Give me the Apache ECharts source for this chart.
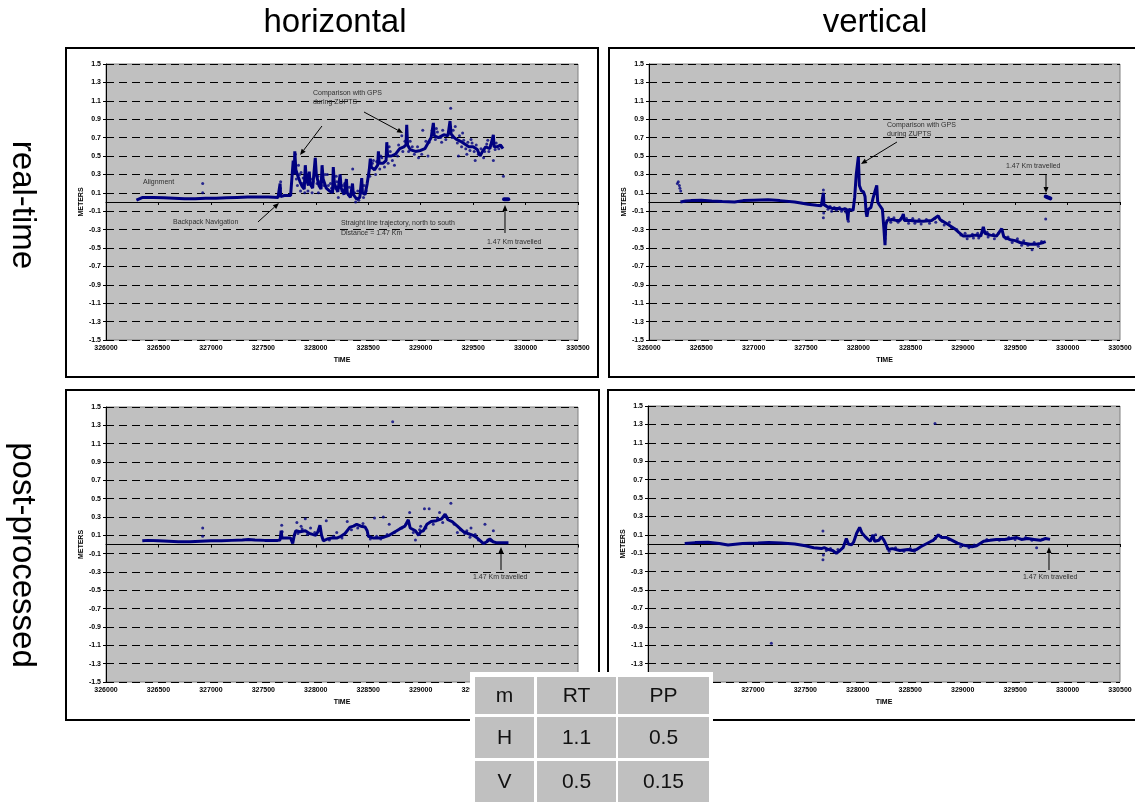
<!DOCTYPE html>
<html><head><meta charset="utf-8">
<script src="https://cdn.jsdelivr.net/npm/echarts@6/dist/echarts.min.js"></script>
<style>html,body{margin:0;padding:0;background:#fff;}#c{width:1135px;height:803px;}</style>
</head><body><div id="c"></div>
<script>
// ---------- axis definitions ----------
const timeMin = 326000, timeMax = 330500, timeStep = 500;
const meterMin = -1.5, meterMax = 1.5, meterStep = 0.2;
const colTitles = ['horizontal', 'vertical'];
const rowTitles = ['real-time', 'post-processed'];
const xAxisName = 'TIME';
const yAxisName = 'METERS';

// ---------- data: real-time horizontal ----------
const rtH_trace = [
[326290,0.02],[326300,0.04],[326350,0.05],[326450,0.05],[326550,0.045],[326650,0.04],[326750,0.035],[326850,0.035],[326950,0.04],[327050,0.04],[327150,0.045],[327250,0.05],[327350,0.055],[327450,0.055],[327550,0.055],[327640,0.05],
[327655,0.05],[327660,0.2],[327665,0.06],[327700,0.07],[327760,0.07],[327770,0.08],
[327785,0.45],[327795,0.30],[327800,0.55],[327810,0.35],[327830,0.28],[327850,0.22],[327870,0.17],[327890,0.14],
[327900,0.40],[327910,0.25],[327930,0.18],[327938,0.33],[327945,0.2],[327970,0.15],[327985,0.14],
[327995,0.48],[328005,0.3],[328030,0.18],[328050,0.14],
[328060,0.40],[328070,0.25],[328100,0.15],[328130,0.12],[328160,0.10],
[328167,0.38],[328177,0.2],[328210,0.11],[328225,0.09],
[328232,0.30],[328242,0.15],[328270,0.08],[328285,0.07],
[328292,0.25],[328300,0.1],[328330,0.05],[328345,0.05],
[328350,0.20],[328358,0.08],[328390,0.03],[328420,0.05],
[328438,0.26],[328445,0.1],[328470,0.08],
[328490,0.2],[328510,0.35],[328520,0.47],[328530,0.38],[328560,0.35],[328590,0.4],[328597,0.55],[328605,0.42],[328640,0.42],[328670,0.45],[328677,0.65],[328685,0.5],[328720,0.5],[328760,0.52],[328800,0.58],[328840,0.6],[328860,0.62],[328867,0.84],[328875,0.62],[328900,0.57],[328950,0.55],[329000,0.56],[329040,0.58],[329060,0.62],[329100,0.7],[329121,0.86],[329130,0.72],[329170,0.7],[329220,0.73],[329260,0.72],[329280,0.88],[329290,0.74],[329320,0.7],[329343,0.68],[329380,0.66],[329420,0.63],[329460,0.6],[329500,0.6],[329540,0.57],[329566,0.5],[329590,0.55],[329620,0.6],[329660,0.58],[329693,0.73],[329700,0.6],[329730,0.6],[329760,0.62],[329785,0.58]
];
const rtH_dots = [
[326922,0.2],[326922,0.1],[327662,0.15],[327665,0.22],[327790,0.4],[327805,0.52],[327835,0.4],[327860,0.32],[327880,0.26],[327950,0.25],[328020,0.28],[328110,0.3],[328140,0.2],[328200,0.22],[328260,0.18],[328352,0.36],[328400,0.12],[328460,0.18],[328550,0.45],[328620,0.5],[328700,0.6],[328750,0.4],[328820,0.72],[328900,0.66],[328980,0.48],[329020,0.78],[329070,0.5],[329150,0.8],[329200,0.65],[329286,1.02],[329330,0.82],[329360,0.5],[329400,0.75],[329440,0.52],[329480,0.68],[329520,0.45],[329600,0.48],[329640,0.67],[329693,0.45],[329789,0.28],
[327815,0.25],[327825,0.18],[327845,0.3],[327855,0.12],[327875,0.2],[327895,0.1],[327915,0.3],[327925,0.12],[327955,0.2],[327965,0.1],[327975,0.22],[328012,0.2],[328025,0.1],[328040,0.22],[328078,0.18],[328090,0.3],[328120,0.18],[328150,0.15],[328185,0.15],[328195,0.28],[328215,0.05],[328250,0.12],[328275,0.2],[328310,0.08],[328320,0.16],[328340,0.1],[328370,0.1],[328380,0.0],[328410,0.02],[328430,0.12],[328455,0.05],[328480,0.12],
[328515,0.28],[328540,0.42],[328570,0.3],[328580,0.44],[328610,0.36],[328630,0.48],[328655,0.38],[328690,0.42],[328710,0.55],[328730,0.45],[328780,0.5],[328790,0.62],[328830,0.55],[328850,0.66],[328885,0.55],[328920,0.6],[328940,0.52],[328970,0.6],[329010,0.52],[329050,0.66],[329080,0.65],[329110,0.78],[329140,0.68],[329160,0.76],[329190,0.7],[329210,0.78],[329240,0.68],[329270,0.76],[329300,0.7],[329310,0.78],[329350,0.64],[329370,0.72],[329390,0.6],[329410,0.67],[329430,0.58],[329450,0.65],[329470,0.56],[329490,0.64],[329510,0.55],[329530,0.62],[329550,0.52],[329575,0.58],[329610,0.55],[329630,0.63],[329650,0.55],[329670,0.62],[329710,0.57],[329720,0.64],[329745,0.58],[329770,0.6]
];
const rtH_end = [[329795,0.03],[329810,0.035],[329835,0.03]];

// ---------- data: real-time vertical ----------
const rtV_trace = [
[326300,0.0],[326350,0.01],[326400,0.015],[326500,0.018],[326600,0.01],[326700,0.005],[326818,0.0],[326900,0.015],[327000,0.02],[327137,0.025],[327250,0.015],[327392,0.0],[327450,-0.01],[327519,-0.025],[327600,-0.035],[327646,-0.04],[327660,-0.03],[327666,0.1],[327672,-0.03],[327700,-0.05],[327750,-0.07],[327800,-0.07],[327850,-0.08],[327890,-0.08],[327900,-0.2],[327908,-0.08],[327950,-0.09],[327965,0.05],[327980,0.3],[328000,0.49],[328010,0.18],[328030,0.12],[328050,0.11],[328064,0.06],[328075,-0.12],[328082,-0.16],[328095,-0.08],[328120,-0.06],[328140,0.04],[328160,0.12],[328176,0.18],[328185,0.0],[328200,-0.03],[328230,-0.08],[328245,-0.3],[328255,-0.47],[328262,-0.25],[328275,-0.2],[328320,-0.19],[328360,-0.2],[328398,-0.2],[328420,-0.16],[328430,-0.13],[328440,-0.2],[328500,-0.2],[328560,-0.21],[328620,-0.21],[328700,-0.2],[328764,-0.15],[328780,-0.19],[328850,-0.24],[328920,-0.29],[328960,-0.33],[329003,-0.37],[329060,-0.37],[329120,-0.36],[329170,-0.37],[329194,-0.27],[329210,-0.34],[329260,-0.36],[329320,-0.37],[329370,-0.29],[329390,-0.38],[329450,-0.41],[329500,-0.42],[329545,-0.44],[329600,-0.45],[329640,-0.46],[329700,-0.46],[329740,-0.45],[329768,-0.44],[329790,-0.43]
];
const rtV_dots = [
[326271,0.2],[326280,0.22],[326290,0.18],[326295,0.15],[326303,0.12],[327666,0.13],[327666,-0.17],[327669,-0.12],[327905,-0.21],[328255,-0.4],[328258,-0.35],[329660,-0.52],[329790,-0.185],
[327690,-0.04],[327710,-0.08],[327730,-0.05],[327745,-0.1],[327770,-0.06],[327790,-0.09],[327820,-0.06],[327840,-0.1],[327870,-0.07],[327880,-0.11],
[328290,-0.17],[328310,-0.22],[328340,-0.17],[328380,-0.22],[328410,-0.18],[328460,-0.18],[328480,-0.23],[328520,-0.18],[328540,-0.23],[328580,-0.19],[328600,-0.24],[328650,-0.19],[328680,-0.23],[328730,-0.18],[328740,-0.22],[328800,-0.21],[328820,-0.25],[328870,-0.22],[328890,-0.28],[328940,-0.3],[328980,-0.36],[329020,-0.34],[329040,-0.4],[329090,-0.35],[329100,-0.39],[329140,-0.34],[329150,-0.39],[329230,-0.33],[329240,-0.38],[329290,-0.35],[329300,-0.4],[329340,-0.34],[329410,-0.4],[329430,-0.38],[329470,-0.44],[329520,-0.4],[329560,-0.47],[329580,-0.42],[329620,-0.47],[329680,-0.44],[329720,-0.48],[329750,-0.43]
];
const rtV_end = [[329790,0.06],[329810,0.05],[329835,0.04]];

// ---------- data: post-processed horizontal ----------
const ppH_trace = [
[326346,0.04],[326400,0.045],[326500,0.04],[326600,0.035],[326690,0.03],[326800,0.03],[326900,0.035],[327000,0.04],[327100,0.04],[327200,0.045],[327300,0.05],[327357,0.055],[327420,0.05],[327513,0.045],[327637,0.045],[327660,0.05],[327670,0.15],[327678,0.07],[327720,0.07],[327760,0.07],[327780,0.01],[327787,0.0],[327795,0.1],[327810,0.15],[327850,0.14],[327900,0.15],[327940,0.12],[327969,0.11],[328000,0.1],[328020,0.14],[328040,0.21],[328055,0.1],[328072,0.04],[328110,0.06],[328151,0.07],[328200,0.07],[328240,0.09],[328279,0.12],[328326,0.19],[328360,0.2],[328390,0.22],[328430,0.2],[328470,0.19],[328490,0.15],[328501,0.09],[328550,0.07],[328600,0.07],[328650,0.08],[328700,0.1],[328772,0.15],[328800,0.17],[328850,0.2],[328882,0.27],[328900,0.18],[328950,0.15],[328980,0.1],[329000,0.14],[329026,0.15],[329060,0.22],[329100,0.25],[329150,0.26],[329200,0.28],[329233,0.33],[329260,0.27],[329300,0.25],[329350,0.2],[329407,0.14],[329450,0.12],[329500,0.1],[329540,0.07],[329570,0.04],[329598,0.01],[329630,0.03],[329660,0.06],[329690,0.03],[329720,0.02],[329780,0.02],[329837,0.02]
];
const ppH_dots = [
[326922,0.18],[326922,0.09],[327675,0.21],[327680,0.14],[327820,0.24],[327860,0.2],[327900,0.28],[327950,0.18],[328100,0.26],[328200,0.13],[328300,0.25],[328560,0.29],[328644,0.30],[328700,0.22],[328733,1.34],[328895,0.35],[328950,0.05],[329000,0.2],[329036,0.39],[329081,0.39],[329180,0.35],[329288,0.45],[329350,0.13],[329440,0.15],[329480,0.18],[329613,0.22],[329693,0.15],
[327830,0.12],[327870,0.17],[327920,0.11],[327990,0.13],[328130,0.05],[328170,0.09],[328250,0.07],[328340,0.16],[328400,0.18],[328450,0.23],[328520,0.06],[328580,0.09],[328620,0.06],[328680,0.11],[328750,0.13],[328820,0.18],[328860,0.22],[328930,0.13],[328990,0.16],[329050,0.18],[329120,0.22],[329160,0.29],[329210,0.24],[329250,0.3],[329320,0.22],[329380,0.16],[329420,0.12],[329470,0.08],[329520,0.11],[329550,0.05],[329640,0.05],[329670,0.04]
];

// ---------- data: post-processed vertical ----------
const ppV_trace = [
[326350,0.005],[326450,0.015],[326572,0.02],[326680,0.005],[326763,-0.01],[326900,0.005],[327049,0.01],[327150,0.015],[327271,0.01],[327399,0.0],[327500,-0.02],[327580,-0.04],[327653,-0.05],[327680,-0.04],[327720,-0.06],[327760,-0.07],[327796,-0.1],[327830,-0.07],[327860,-0.04],[327891,0.06],[327910,0.0],[327940,-0.01],[327960,0.02],[327990,0.12],[328018,0.18],[328040,0.12],[328070,0.08],[328097,0.05],[328120,0.03],[328145,0.1],[328160,0.03],[328200,0.04],[328225,0.08],[328250,0.04],[328275,-0.02],[328288,-0.06],[328330,-0.05],[328400,-0.07],[328479,-0.06],[328520,-0.07],[328561,-0.06],[328600,-0.03],[328650,0.0],[328700,0.03],[328720,0.04],[328768,0.1],[328800,0.07],[328847,0.07],[328900,0.04],[328950,0.01],[329000,-0.01],[329038,-0.02],[329090,-0.03],[329133,-0.02],[329200,0.03],[329261,0.04],[329320,0.05],[329400,0.05],[329460,0.06],[329515,0.07],[329560,0.05],[329620,0.06],[329680,0.05],[329740,0.04],[329790,0.06],[329833,0.05]
];
const ppV_dots = [
[327668,0.14],[327668,-0.17],[327672,-0.12],[327176,-1.08],[328736,1.31],[329705,-0.04],[328170,0.1],
[327700,-0.07],[327740,-0.05],[327780,-0.09],[327810,-0.06],[328300,-0.08],[328360,-0.04],[328440,-0.08],[328500,-0.05],[328540,-0.08],[328740,0.06],[328870,0.05],[328980,-0.03],[329060,-0.04],[329110,-0.01],[329230,0.05],[329350,0.04],[329440,0.07],[329500,0.05],[329600,0.07],[329660,0.04],[329760,0.05]
];

// ---------- summary table ----------
const tableHeader = ['m', 'RT', 'PP'];
const tableRowH = ['H', '1.1', '0.5'];
const tableRowV = ['V', '0.5', '0.15'];

// ---------- annotations (data coordinates) ----------
const annotations = [
  { texts: [[326353,0.217,'Alignment'],[326639,-0.217,'Backpack Navigation'],[327973,1.185,'Comparison with GPS'],[327973,1.087,'during ZUPTS'],[328240,-0.228,'Straight line trajectory, north to south'],[328240,-0.337,'Distance = 1.47 Km'],[329632,-0.435,'1.47 Km travelled']],
    arrows: [[327449,-0.217,327649,-0.011],[328059,0.826,327850,0.511],[328460,0.978,328832,0.75],[329804,-0.337,329804,-0.033]] },
  { texts: [[328274,0.837,'Comparison with GPS'],[328274,0.739,'during ZUPTS'],[329411,0.391,'1.47 Km travelled']],
    arrows: [[328369,0.652,328025,0.413],[329793,0.304,329793,0.098]] },
  { texts: [[329499,-0.355,'1.47 Km travelled']], arrows: [[329766,-0.278,329766,-0.027]] },
  { texts: [[329575,-0.359,'1.47 Km travelled']], arrows: [[329823,-0.283,329823,-0.033]] }
];

// ---------- layout ----------
const FONT = "'Liberation Sans', Arial, Helvetica, sans-serif";
const NAVY = '#000080';
const grids = [
  {left:106, top:64, width:472, height:276},
  {left:649, top:64, width:471, height:276},
  {left:106, top:407, width:472, height:275},
  {left:648, top:406, width:472, height:276}
];
const panels = [
  {trace: rtH_trace, dots: rtH_dots, end: rtH_end},
  {trace: rtV_trace, dots: rtV_dots, end: rtV_end},
  {trace: ppH_trace, dots: ppH_dots, end: []},
  {trace: ppV_trace, dots: ppV_dots, end: []}
];

const chart = echarts.init(document.getElementById('c'), null, {renderer:'canvas'});
const lbl = {fontSize:7, fontWeight:'bold', color:'#000', fontFamily:FONT};

const option = {
  animation:false,
  backgroundColor:'#fff',
  grid: grids.map(g => Object.assign({show:true, backgroundColor:'#c0c0c0', borderColor:'#808080', borderWidth:1, containLabel:false}, g)),
  xAxis: [],
  yAxis: [],
  series: []
};
grids.forEach((g, i) => {
  option.xAxis.push({
    gridIndex:i, type:'value', min:timeMin, max:timeMax, interval:timeStep, position:'bottom',
    axisLine:{show:false, onZero:false}, axisTick:{show:false}, splitLine:{show:false},
    axisLabel:Object.assign({margin:5, formatter:v => String(v)}, lbl),
    name:xAxisName, nameLocation:'middle', nameGap:17, nameTextStyle:lbl
  });
  option.xAxis.push({
    gridIndex:i, type:'value', min:timeMin, max:timeMax, interval:timeStep, position:'bottom',
    axisLine:{show:true, onZero:true, onZeroAxisIndex:i, lineStyle:{color:'#000', width:1}},
    axisTick:{show:true, length:3, inside:false, lineStyle:{color:'#000'}},
    axisLabel:{show:false}, splitLine:{show:false}
  });
  option.yAxis.push({
    gridIndex:i, type:'value', min:meterMin, max:meterMax, interval:meterStep,
    axisLine:{show:true, onZero:false, lineStyle:{color:'#000', width:1}},
    axisTick:{show:true, length:3, lineStyle:{color:'#000'}},
    axisLabel:Object.assign({margin:5, formatter:v => v.toFixed(1)}, lbl),
    splitLine:{show:true, lineStyle:{color:'#000', width:1, type:[8,5]}},
    name:yAxisName, nameLocation:'middle', nameGap:21, nameTextStyle:lbl
  });
  const p = panels[i];
  option.series.push({type:'line', xAxisIndex:2*i, yAxisIndex:i, data:p.trace, symbol:'none', showSymbol:false,
    lineStyle:{color:NAVY, width:3}, silent:true, z:3});
  option.series.push({type:'scatter', xAxisIndex:2*i, yAxisIndex:i, data:p.dots, symbolSize:3,
    itemStyle:{color:NAVY}, silent:true, z:3});
  if (p.end.length) option.series.push({type:'line', xAxisIndex:2*i, yAxisIndex:i, data:p.end, symbol:'none',
    lineStyle:{color:NAVY, width:4, cap:'round'}, silent:true, z:3});
});
chart.setOption(option);

// ---------- graphic overlay ----------
const G = [];
[[66,48,532,329],[609,48,530,329],[66,390,533,330],[608,390,530,330]].forEach(r => {
  G.push({type:'rect', shape:{x:r[0], y:r[1], width:r[2], height:r[3]}, style:{fill:null, stroke:'#000', lineWidth:2}, z:50, silent:true});
});
const titleStyle = {fontSize:33, fontFamily:FONT, fill:'#000', align:'center', verticalAlign:'middle'};
G.push({type:'text', x:335, y:23, style:Object.assign({text:colTitles[0]}, titleStyle), z:50});
G.push({type:'text', x:875, y:23, style:Object.assign({text:colTitles[1]}, titleStyle), z:50});
G.push({type:'text', x:22, y:205, rotation:-Math.PI/2, style:Object.assign({text:rowTitles[0]}, titleStyle), z:50});
G.push({type:'text', x:22, y:555, rotation:-Math.PI/2, style:Object.assign({text:rowTitles[1]}, titleStyle), z:50});

annotations.forEach((a, i) => {
  const finder = {xAxisIndex:2*i, yAxisIndex:i};
  a.texts.forEach(t => {
    const p = chart.convertToPixel(finder, [t[0], t[1]]);
    G.push({type:'text', x:p[0], y:p[1], style:{text:t[2], fontSize:7, fontFamily:FONT, fill:'#303030', align:'left', verticalAlign:'middle'}, z:40, silent:true});
  });
  a.arrows.forEach(ar => {
    const p1 = chart.convertToPixel(finder, [ar[0], ar[1]]);
    const p2 = chart.convertToPixel(finder, [ar[2], ar[3]]);
    const ang = Math.atan2(p2[1]-p1[1], p2[0]-p1[0]);
    const L = 6, W = 2.5;
    const bx = p2[0] - L*Math.cos(ang), by = p2[1] - L*Math.sin(ang);
    const nx = -Math.sin(ang), ny = Math.cos(ang);
    G.push({type:'line', shape:{x1:p1[0], y1:p1[1], x2:bx, y2:by}, style:{stroke:'#000', lineWidth:1}, z:40, silent:true});
    G.push({type:'polygon', shape:{points:[[p2[0],p2[1]],[bx+W*nx, by+W*ny],[bx-W*nx, by-W*ny]]}, style:{fill:'#000'}, z:40, silent:true});
  });
});

const colX = [[475,534],[537,616],[618,709]];
const rowY = [[677,714],[717,758],[761,802]];
G.push({type:'rect', shape:{x:470, y:672, width:243, height:135}, style:{fill:'#fff'}, z:60, silent:true});
[tableHeader, tableRowH, tableRowV].forEach((row, r) => {
  row.forEach((cell, c) => {
    const x0 = colX[c][0], x1 = colX[c][1], y0 = rowY[r][0], y1 = rowY[r][1];
    G.push({type:'rect', shape:{x:x0, y:y0, width:x1-x0, height:y1-y0}, style:{fill:'#c0c0c0'}, z:61, silent:true});
    G.push({type:'text', x:(x0+x1)/2, y:(y0+y1)/2+1, style:{text:cell, fontSize:21, fontFamily:FONT, fill:'#111', align:'center', verticalAlign:'middle'}, z:62, silent:true});
  });
});

chart.setOption({graphic:G});
</script>
</body></html>
